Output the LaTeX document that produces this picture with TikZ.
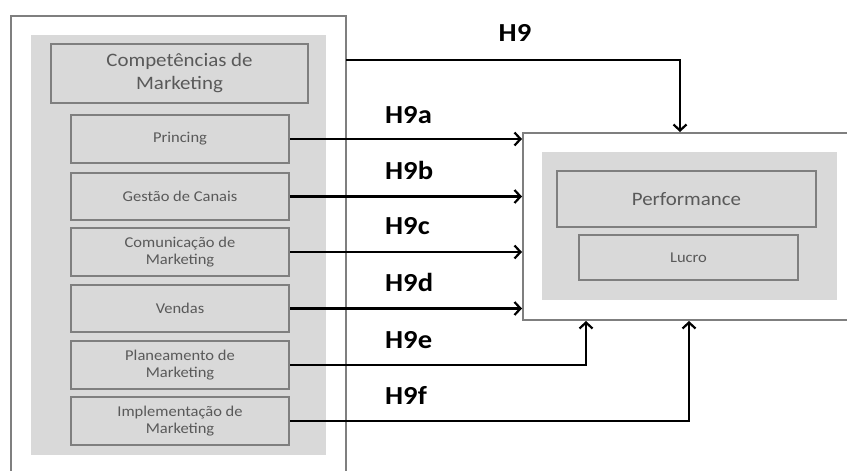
\documentclass[tikz,border=0pt]{standalone}
\usepackage{fontspec}
\setmainfont{Carlito}[FakeStretch=1.1]
\usetikzlibrary{arrows.meta}
\definecolor{boxline}{HTML}{7F7F7F}
\definecolor{panel}{HTML}{D9D9D9}
\definecolor{boxtext}{HTML}{595959}
\tikzset{
  outerbox/.style={draw=boxline, line width=2pt, fill=white, inner sep=0pt},
  panelbox/.style={fill=panel, draw=none, inner sep=0pt},
  itembox/.style={draw=boxline, line width=2.2pt, fill=panel, inner sep=0pt, text=boxtext, align=center, font=\fontsize{15}{17}\selectfont},
  bigbox/.style={itembox, font=\fontsize{19}{23}\selectfont},
  link/.style={line width=2.6pt, black, -{Straight Barb[length=6pt,width=13pt,line width=2.2pt]}},
  hlabel/.style={font=\bfseries\fontsize{26}{28}\selectfont, anchor=west, inner sep=0pt}
}
\begin{document}
\begin{tikzpicture}[x=1pt,y=-1pt]
\clip (0,0) rectangle (847,471);
\fill[white] (0,0) rectangle (847,471);
% left group
\node[outerbox, minimum width=335, minimum height=474] (leftouter) at (178.5,253) {};
\node[panelbox, minimum width=295, minimum height=420] (leftpanel) at (178.5,245) {};
\node[bigbox, minimum width=257, minimum height=59] (comp) at (179.5,73.5) {Competências de\\Marketing};
\node[itembox, minimum width=218, minimum height=48] (pric) at (180,139) {Princing};
\node[itembox, minimum width=218, minimum height=47] (gest) at (180,196.5) {Gestão de Canais};
\node[itembox, minimum width=218, minimum height=48] (comu) at (180,252) {Comunicação de\\Marketing};
\node[itembox, minimum width=218, minimum height=47] (vend) at (180,308.5) {Vendas};
\node[itembox, minimum width=218, minimum height=48] (plan) at (180,365) {Planeamento de\\Marketing};
\node[itembox, minimum width=218, minimum height=48] (impl) at (180,421) {Implementação de\\Marketing};
% right group
\node[outerbox, minimum width=337, minimum height=187] (rightouter) at (691.5,226.5) {};
\node[panelbox, minimum width=295, minimum height=148] (rightpanel) at (689.5,226) {};
\node[bigbox, minimum width=259, minimum height=56] (perf) at (686.5,199) {Performance};
\node[itembox, minimum width=219, minimum height=45] (lucro) at (688.5,257.5) {Lucro};
% connectors
\coordinate (h9start) at (346,60);
\draw[link] (h9start) -| ([xshift=-11.5pt]rightouter.north);
\draw[link] (pric.east) -- (rightouter.west |- pric.east);
\draw[link] (gest.east) -- (rightouter.west |- gest.east);
\draw[link] (comu.east) -- (rightouter.west |- comu.east);
\draw[link] (vend.east) -- (rightouter.west |- vend.east);
\draw[link] (plan.east) -| ([xshift=-105.5pt]rightouter.south);
\draw[link] (impl.east) -| ([xshift=-2.5pt]rightouter.south);
% labels
\node[hlabel, anchor=center] (l9) at (515,33) {H9};
\node[hlabel] (l9a) at (385,115) {H9a};
\node[hlabel] (l9b) at (385,170) {H9b};
\node[hlabel] (l9c) at (385,226) {H9c};
\node[hlabel] (l9d) at (385,282) {H9d};
\node[hlabel] (l9e) at (385,340) {H9e};
\node[hlabel] (l9f) at (385,395) {H9f};
\end{tikzpicture}
\end{document}
